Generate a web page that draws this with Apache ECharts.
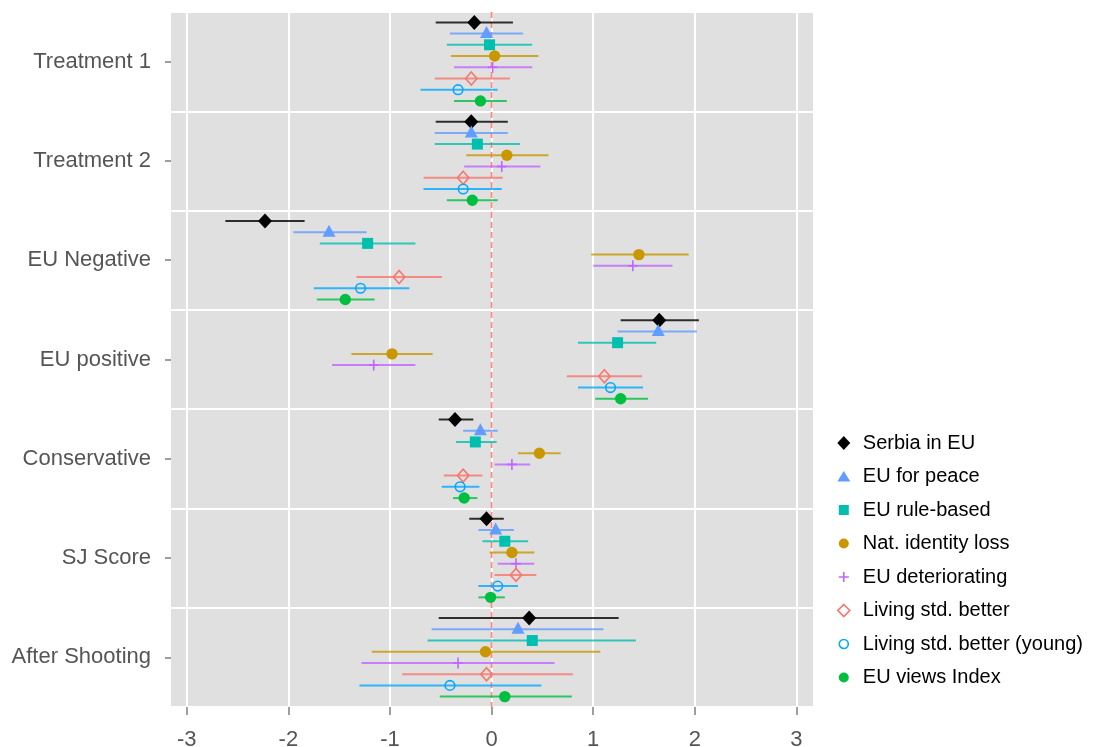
<!DOCTYPE html>
<html>
<head>
<meta charset="utf-8">
<script src="https://cdn.jsdelivr.net/npm/echarts@6/dist/echarts.min.js"></script>
<style>
html,body{margin:0;padding:0;background:#fff;}
#chart{width:1112px;height:747px;}
</style>
</head>
<body>
<div id="chart"></div>
<script>
// ---- data ----
const categories = ['Treatment 1','Treatment 2','EU Negative','EU positive','Conservative','SJ Score','After Shooting'];
const xTicks = [-3,-2,-1,0,1,2,3];
const refLine = [0];
const seriesNames = ['Serbia in EU','EU for peace','EU rule-based','Nat. identity loss','EU deteriorating','Living std. better','Living std. better (young)','EU views Index'];
// each entry: [estimate, lower, upper] per category
const serbiaInEU =           [[-0.17,-0.55,0.21],[-0.20,-0.55,0.16],[-2.23,-2.62,-1.84],[1.65,1.27,2.04],[-0.36,-0.52,-0.18],[-0.05,-0.22,0.12],[0.37,-0.52,1.25]];
const euForPeace =           [[-0.05,-0.41,0.31],[-0.20,-0.56,0.16],[-1.60,-1.95,-1.23],[1.64,1.24,2.02],[-0.11,-0.28,0.06],[0.04,-0.13,0.22],[0.26,-0.59,1.10]];
const euRuleBased =          [[-0.02,-0.44,0.40],[-0.14,-0.56,0.28],[-1.22,-1.69,-0.75],[1.24,0.85,1.62],[-0.16,-0.35,0.05],[0.13,-0.09,0.36],[0.40,-0.63,1.42]];
const natIdentityLoss =      [[0.03,-0.40,0.46],[0.15,-0.25,0.56],[1.45,0.98,1.94],[-0.98,-1.38,-0.58],[0.47,0.26,0.68],[0.20,-0.02,0.42],[-0.06,-1.18,1.07]];
const euDeteriorating =      [[0.01,-0.37,0.40],[0.10,-0.27,0.48],[1.39,1.00,1.78],[-1.16,-1.57,-0.75],[0.20,0.03,0.38],[0.24,0.06,0.42],[-0.33,-1.28,0.62]];
const livingStdBetter =      [[-0.20,-0.56,0.18],[-0.28,-0.67,0.11],[-0.91,-1.33,-0.49],[1.11,0.74,1.48],[-0.28,-0.47,-0.09],[0.24,0.03,0.44],[-0.05,-0.88,0.80]];
const livingStdBetterYoung = [[-0.33,-0.70,0.06],[-0.28,-0.67,0.10],[-1.29,-1.75,-0.81],[1.17,0.85,1.49],[-0.31,-0.49,-0.12],[0.06,-0.13,0.26],[-0.41,-1.30,0.49]];
const euViewsIndex =         [[-0.11,-0.37,0.15],[-0.19,-0.44,0.06],[-1.44,-1.72,-1.15],[1.27,1.02,1.54],[-0.27,-0.38,-0.14],[-0.01,-0.13,0.13],[0.13,-0.51,0.79]];

const allData = [serbiaInEU, euForPeace, euRuleBased, natIdentityLoss, euDeteriorating, livingStdBetter, livingStdBetterYoung, euViewsIndex];
const colors = ['#000000','#619CFF','#00BFAE','#C99700','#C066FF','#F8766D','#00A9FF','#00BF40'];
const shapes = ['diamond','triangle','square','circle','plus','openDiamond','openCircle','circle'];
const FONT = 'Liberation Sans, Arial, sans-serif';

function marker(shape, x, y, color) {
  switch (shape) {
    case 'diamond':
      return {type:'polygon', shape:{points:[[x,y-7.5],[x+7,y],[x,y+7.5],[x-7,y]]}, style:{fill:color}};
    case 'triangle':
      return {type:'polygon', shape:{points:[[x,y-7.5],[x+6.5,y+4.5],[x-6.5,y+4.5]]}, style:{fill:color}};
    case 'square':
      return {type:'rect', shape:{x:x-5.5,y:y-5.5,width:11,height:11}, style:{fill:color}};
    case 'circle':
      return {type:'circle', shape:{cx:x,cy:y,r:5.7}, style:{fill:color}};
    case 'plus':
      return {type:'group', children:[
        {type:'line', shape:{x1:x-5,y1:y,x2:x+5,y2:y}, style:{stroke:color,lineWidth:1.6}},
        {type:'line', shape:{x1:x,y1:y-5.5,x2:x,y2:y+5.5}, style:{stroke:color,lineWidth:1.6}}
      ]};
    case 'openDiamond':
      return {type:'polygon', shape:{points:[[x,y-6.5],[x+5.7,y],[x,y+6.5],[x-5.7,y]]}, style:{fill:'none',stroke:color,lineWidth:1.6}};
    case 'openCircle':
      return {type:'circle', shape:{cx:x,cy:y,r:4.8}, style:{fill:'none',stroke:color,lineWidth:1.6}};
  }
}

const dodge = 0.113;
const series = [];
// dashed reference line at zero
series.push({
  name: 'ref', type: 'custom', silent: true, z: 2,
  data: refLine.map(function (v) { return [v]; }),
  encode: {x: 0},
  renderItem: function (params, api) {
    const cs = params.coordSys;
    const x = api.coord([api.value(0), 0])[0];
    return {type:'line', shape:{x1:x,y1:cs.y,x2:x,y2:cs.y+cs.height},
      style:{stroke:'#F8766D', lineWidth:1.8, lineDash:[6,4], opacity:0.85}};
  }
});
allData.forEach(function (arr, si) {
  series.push({
    name: seriesNames[si],
    type: 'custom',
    itemStyle: {color: colors[si]},
    encode: {x: [0,1,2], y: 3},
    data: arr.map(function (d, ci) { return [d[0], d[1], d[2], ci]; }),
    renderItem: function (params, api) {
      const ci = api.value(3);
      const p = api.coord([api.value(0), ci]);
      const band = api.size([0, 1])[1];
      const y = p[1] + (si - 3.5) * dodge * band;
      const xl = api.coord([api.value(1), ci])[0];
      const xh = api.coord([api.value(2), ci])[0];
      return {type:'group', children:[
        {type:'line', shape:{x1:xl,y1:y,x2:xh,y2:y}, style:{stroke:colors[si],lineWidth:2,opacity:0.8}},
        marker(shapes[si], p[0], y, colors[si])
      ]};
    },
    z: 3
  });
});

// legend icons in a 28x14 box (the M points fix the box, symbol sits at the centre)
const box = 'M0,0 M28,14 ';
const legendIcons = {
  diamond: 'path://' + box + 'M14,0 L20.5,7 L14,14 L7.5,7 Z',
  triangle: 'path://' + box + 'M14,1.5 L20.5,12 L7.5,12 Z',
  square: 'path://' + box + 'M9,2 L19,2 L19,12 L9,12 Z',
  circle: 'path://' + box + 'M14,2 A5,5 0 1 1 13.99,2 Z',
  plus: 'path://' + box + 'M13.2,2 L14.8,2 L14.8,6.2 L19,6.2 L19,7.8 L14.8,7.8 L14.8,12 L13.2,12 L13.2,7.8 L9,7.8 L9,6.2 L13.2,6.2 Z',
  openDiamond: 'path://' + box + 'M14,1 L20,7 L14,13 L8,7 Z',
  openCircle: 'path://' + box + 'M14,2.5 A4.5,4.5 0 1 1 13.99,2.5 Z'
};
const legendData = seriesNames.map(function (n, i) {
  const sh = shapes[i];
  const item = {name: n, icon: legendIcons[sh]};
  if (sh === 'openDiamond' || sh === 'openCircle') {
    item.itemStyle = {color:'#ffffff', borderColor: colors[i], borderWidth: 1.6};
  } else {
    item.itemStyle = {color: colors[i], borderWidth: 0};
  }
  return item;
});

const chart = echarts.init(document.getElementById('chart'), null, {renderer:'canvas'});
chart.setOption({
  animation: false,
  backgroundColor: '#ffffff',
  grid: {left:171, right:299, top:12, bottom:40, show:true, backgroundColor:'#E0E0E0', borderWidth:0,
         containLabel:false, outerBoundsMode:'none'},
  legend: {
    orient:'vertical', left:824, top:428, itemGap:13.5, itemWidth:28, itemHeight:14,
    data: legendData,
    textStyle: {fontSize:20, color:'#000', fontFamily:FONT}
  },
  xAxis: {
    type:'value', min:-3.155, max:3.163,
    axisLine:{show:false, onZero:false},
    axisTick:{show:true, customValues:xTicks, length:8, lineStyle:{color:'#7f7f7f', width:1.5}},
    axisLabel:{customValues:xTicks, fontSize:22, color:'#555', margin:22, fontFamily:FONT},
    splitLine:{show:true, lineStyle:{color:'#ffffff', width:2}}
  },
  yAxis: {
    type:'category', data:categories, inverse:true,
    axisLine:{show:false, onZero:false},
    axisTick:{show:true, alignWithLabel:true, length:6, lineStyle:{color:'#7f7f7f', width:1.5}},
    axisLabel:{fontSize:22, color:'#555', margin:20, fontFamily:FONT},
    splitLine:{show:true, lineStyle:{color:'#ffffff', width:2}}
  },
  series: series
});
</script>
</body>
</html>
